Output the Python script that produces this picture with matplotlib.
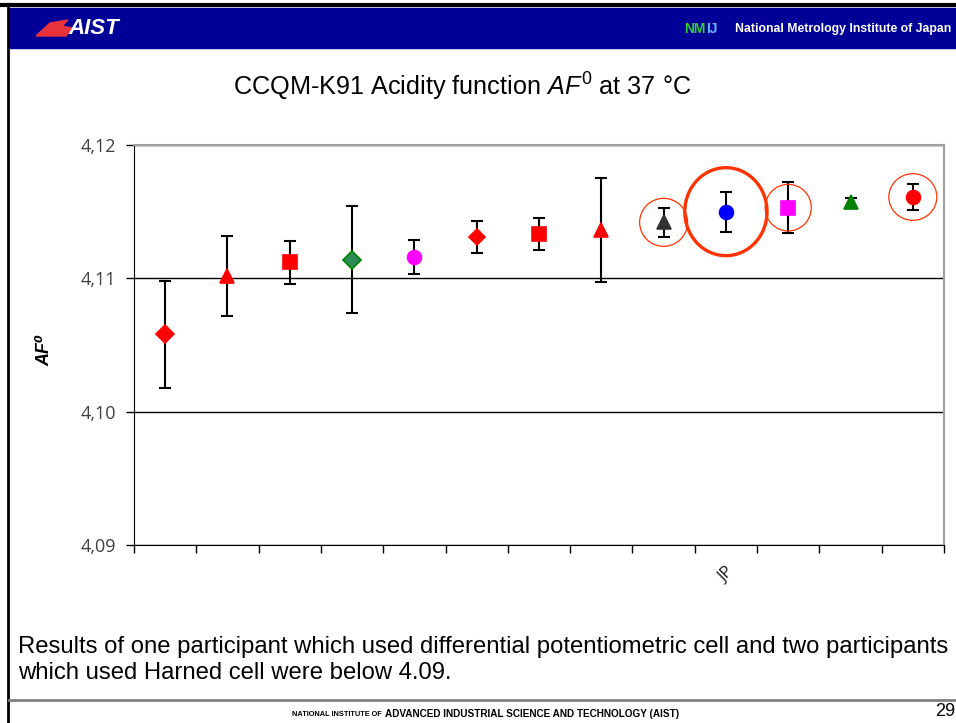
import numpy as np
import matplotlib
matplotlib.use("Agg")
import matplotlib.pyplot as plt
from matplotlib.patches import Rectangle, Ellipse, Polygon

plt.rcParams['font.family'] = ['Liberation Sans', 'DejaVu Sans']
plt.rcParams['mathtext.fontset'] = 'custom'
plt.rcParams['mathtext.rm'] = 'Liberation Sans'
plt.rcParams['mathtext.it'] = 'Liberation Sans:italic'
plt.rcParams['mathtext.bf'] = 'Liberation Sans:bold'

# AF0 results per participant (only JP labelled)
labels = ['', '', '', '', '', '', '', '', '', 'JP', '', '', '']
values = [4.1058, 4.1102, 4.1112, 4.1114, 4.1116, 4.1131, 4.1133, 4.1136,
          4.1142, 4.1150, 4.1153, 4.1157, 4.1161]
uncert = [0.0040, 0.0030, 0.0016, 0.0040, 0.0013, 0.0012, 0.0012, 0.0039,
          0.0011, 0.0015, 0.0019, 0.0003, 0.0010]
markers = ['D', '^', 's', 'D', 'o', 'D', 's', '^', '^', 'o', 's', '^', 'o']
faces = ['#ff0000', '#ff0000', '#ff0000', '#2e8b57', '#ff00ff', '#ff0000', '#ff0000',
         '#ff0000', '#333333', '#0000ff', '#ff00ff', '#008000', '#ff0000']
edges = ['#ff0000', '#ff0000', '#ff0000', '#008000', '#ff00ff', '#ff0000', '#ff0000',
         '#ff0000', '#333333', '#0000ff', '#ff00ff', '#008000', '#ff0000']
msizes = [9, 10.5, 10.5, 9, 10, 8.5, 10.5, 10.5, 10.5, 10, 10.5, 10.5, 10]
# highlighted results: index, width (categories), height (AF0 units), line width
circled = [(8, 0.77, 0.0036, 0.9), (9, 1.32, 0.0066, 2.4),
           (10, 0.74, 0.0035, 0.9), (12, 0.77, 0.0035, 0.9)]

W, H = 956, 723
fig = plt.figure(figsize=(W / 100, H / 100), dpi=100)

# slide decoration
bg = fig.add_axes([0, 0, 1, 1])
bg.set_xlim(0, W)
bg.set_ylim(H, 0)
bg.axis('off')
bg.add_patch(Rectangle((9, 8), W - 9, 40, color='#000099'))
bg.plot([0, W], [5, 5], color='black', lw=3)
bg.plot([8, 8], [5, H], color='black', lw=2)
bg.plot([9, W], [700, 700], color='#808080', lw=2)
bg.add_patch(Polygon([[36, 36], [50, 23], [68, 20], [62, 26], [72, 28], [66, 36]],
                     closed=True, color='#e8333a'))
bg.text(68, 29, 'AIST', color='white', fontsize=16, fontweight='bold',
        style='italic', va='center', ha='left')
bg.text(684, 29, 'NM', color='#33cc33', fontsize=10, fontweight='bold', va='center')
bg.text(706, 29, 'IJ', color='#66bbff', fontsize=10, fontweight='bold', va='center')
bg.text(735, 29, 'National Metrology Institute of Japan', color='white',
        fontsize=8.8, fontweight='bold', va='center')
bg.text(462, 87, r'CCQM-K91 Acidity function $\mathit{AF}^{0}$ at 37 °C',
        fontsize=18.2, ha='center', va='center')
bg.text(45, 350, 'AF⁰', fontsize=13, fontweight='bold', style='italic',
        rotation=90, ha='center', va='center')
bg.text(18, 647, 'Results of one participant which used differential potentiometric cell and two participants',
        fontsize=17.2, va='center')
bg.text(18, 673, 'which used Harned cell were below 4.09.', fontsize=17.2, va='center')
bg.text(382, 714, 'NATIONAL INSTITUTE OF', fontsize=5.3, fontweight='bold', ha='right', va='center')
bg.text(385, 714, 'ADVANCED INDUSTRIAL SCIENCE AND TECHNOLOGY (AIST)', fontsize=7.2,
        fontweight='bold', ha='left', va='center')
bg.text(955, 712, '29', fontsize=13, ha='right', va='center')

# chart
ax = fig.add_axes([134 / W, (H - 545) / H, 810 / W, 400 / H])
x = np.arange(len(values))
for i in range(len(values)):
    ax.errorbar(x[i], values[i], yerr=uncert[i], fmt='none', ecolor='black',
                elinewidth=1.5, capsize=4.5, capthick=1.5, zorder=3)
    ax.plot(x[i], values[i], marker=markers[i], ms=msizes[i], mfc=faces[i],
            mec=edges[i], mew=1.2, ls='none', zorder=4)
for i, w, h, lw in circled:
    ax.add_patch(Ellipse((x[i], values[i]), w, h, fill=False, ec='#ff3300', lw=lw, zorder=5))

ax.set_xlim(-0.5, len(values) - 0.5)
ax.set_ylim(4.09, 4.12)
ax.set_yticks([4.09, 4.10, 4.11, 4.12])
ax.set_yticklabels(['4,09', '4,10', '4,11', '4,12'], fontsize=13, color='#404040',
                   family=['Open Sans', 'DejaVu Sans'])
ax.set_xticks(np.arange(len(values) + 1) - 0.5)
ax.set_xticklabels([])
ax.set_xticks(x, minor=True)
ax.set_xticklabels(labels, minor=True, rotation=45, ha='right', va='top',
                   rotation_mode='anchor', fontsize=12, color='#202020',
                   family=['Open Sans', 'DejaVu Sans'])
ax.tick_params(axis='x', which='minor', length=0, pad=14)
ax.tick_params(axis='x', which='major', direction='out', length=6, width=1)
ax.tick_params(axis='y', direction='out', length=6, width=1, pad=7)
ax.yaxis.grid(True, color='black', lw=1)
ax.spines['left'].set_color('black')
ax.spines['bottom'].set_color('black')
ax.spines['top'].set_color('#a0a0a0')
ax.spines['right'].set_color('#a0a0a0')
ax.spines['top'].set_linewidth(1.5)
ax.spines['right'].set_linewidth(1.5)
ax.set_axisbelow(True)

fig.savefig('out.png', dpi=100)
